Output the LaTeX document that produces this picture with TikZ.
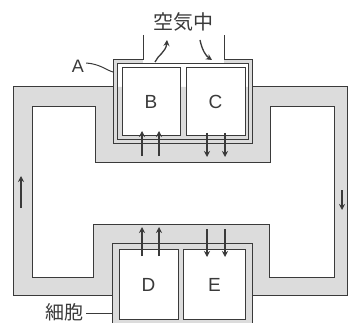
\documentclass[tikz,border=0pt]{standalone}
\usepackage{fontspec}
\setmainfont{Liberation Sans}
\newfontfamily\jpfont{Noto Sans CJK JP}
\usetikzlibrary{arrows.meta}
\definecolor{tubegray}{HTML}{DCDCDC}
\definecolor{linec}{HTML}{3A3A3A}
\begin{document}
\begin{tikzpicture}[x=1pt,y=-1pt,
  ln/.style={draw=linec,line width=1pt},
  cellbox/.style={ln,fill=white,rectangle,inner sep=0pt,font=\fontsize{19}{21}\selectfont,text=linec},
  arr/.style={draw=linec,line width=1.6pt,-{Stealth[length=6pt,width=6pt]}},
  lbl/.style={text=linec,inner sep=0pt}]
\useasboundingbox (0,0) rectangle (350,323);
\fill[white] (0,0) rectangle (350,323);
% circulation tube
\fill[tubegray,even odd rule] (13,87) rectangle (347,295)
  (32,107) -- (95,107) -- (95,162) -- (270,162) -- (270,107) -- (334,107) -- (334,277)
  -- (269,277) -- (269,224) -- (93,224) -- (93,277) -- (32,277) -- cycle;
\draw[ln] (113,87) -- (13,87) -- (13,295) -- (112,295);
\draw[ln] (252,87) -- (347,87) -- (347,295) -- (252,295);
\draw[ln] (32,107) -- (95,107) -- (95,162) -- (270,162) -- (270,107) -- (334,107) -- (334,277)
  -- (269,277) -- (269,224) -- (93,224) -- (93,277) -- (32,277) -- cycle;
% membrane A
\fill[tubegray,even odd rule] (113,60) rectangle (252,144) (117,64) rectangle (248,140);
\fill[white] (143,59) rectangle (224,64);
\draw[ln] (143,35) -- (143,60) -- (113,60) -- (113,144) -- (252,144) -- (252,60) -- (224,60) -- (224,35);
\draw[ln] (117,64) rectangle (248,140);
\node[cellbox,minimum width=58pt,minimum height=68pt] (B) at (151,101.5) {B};
\node[cellbox,minimum width=59pt,minimum height=68pt] (C) at (215.5,101.5) {C};
% lower cell block
\fill[tubegray] (112,243) rectangle (252,330);
\draw[ln] (112,330) -- (112,243) -- (252,243) -- (252,330);
\node[cellbox,minimum width=59pt,minimum height=70pt] (D) at (148.5,284.5) {D};
\node[cellbox,minimum width=62pt,minimum height=70pt] (E) at (214.5,284.5) {E};
% labels
\node[lbl,font=\jpfont\fontsize{20}{22}\selectfont] (air) at (183,22) {空気中};
\node[lbl,font=\fontsize{18}{20}\selectfont] (Alab) at (78,66) {A};
\node[lbl,font=\jpfont\fontsize{19}{21}\selectfont] (cell) at (64,312) {細胞};
\coordinate (Aend) at (113,72);
\coordinate (cellend) at (112,313);
\draw[ln] (Alab.east) ++(2,-3) .. controls (100,64) and (106,70) .. (Aend);
\draw[ln] (cell.east) ++(3,1) -- (cellend);
% gas exchange arrows at top
\coordinate (o1) at (155,62); \coordinate (o2) at (167,40);
\coordinate (i1) at (200,40); \coordinate (i2) at (212,60);
\draw[arr,line width=1.3pt] (o1) .. controls (158,55) and (166,52) .. (o2);
\draw[arr,line width=1.3pt] (i1) .. controls (202,50) and (206,56) .. (i2);
% arrows B, C
\coordinate (b1s) at (142,156); \coordinate (b1e) at (142,131);
\coordinate (b2s) at (159,156); \coordinate (b2e) at (159,131);
\coordinate (c1s) at (207,133); \coordinate (c1e) at (207,157);
\coordinate (c2s) at (225,133); \coordinate (c2e) at (225,157);
\draw[arr] (b1s) -- (b1e); \draw[arr] (b2s) -- (b2e);
\draw[arr] (c1s) -- (c1e); \draw[arr] (c2s) -- (c2e);
% arrows D, E
\coordinate (d1s) at (142,256); \coordinate (d1e) at (142,227);
\coordinate (d2s) at (159,256); \coordinate (d2e) at (159,227);
\coordinate (e1s) at (207,229); \coordinate (e1e) at (207,257);
\coordinate (e2s) at (225,229); \coordinate (e2e) at (225,257);
\draw[arr] (d1s) -- (d1e); \draw[arr] (d2s) -- (d2e);
\draw[arr] (e1s) -- (e1e); \draw[arr] (e2s) -- (e2e);
% circulation arrows
\coordinate (l1) at (21,208); \coordinate (l2) at (21,176);
\coordinate (r1) at (342,190); \coordinate (r2) at (342,210);
\draw[arr] (l1) -- (l2);
\draw[arr] (r1) -- (r2);
\end{tikzpicture}
\end{document}
